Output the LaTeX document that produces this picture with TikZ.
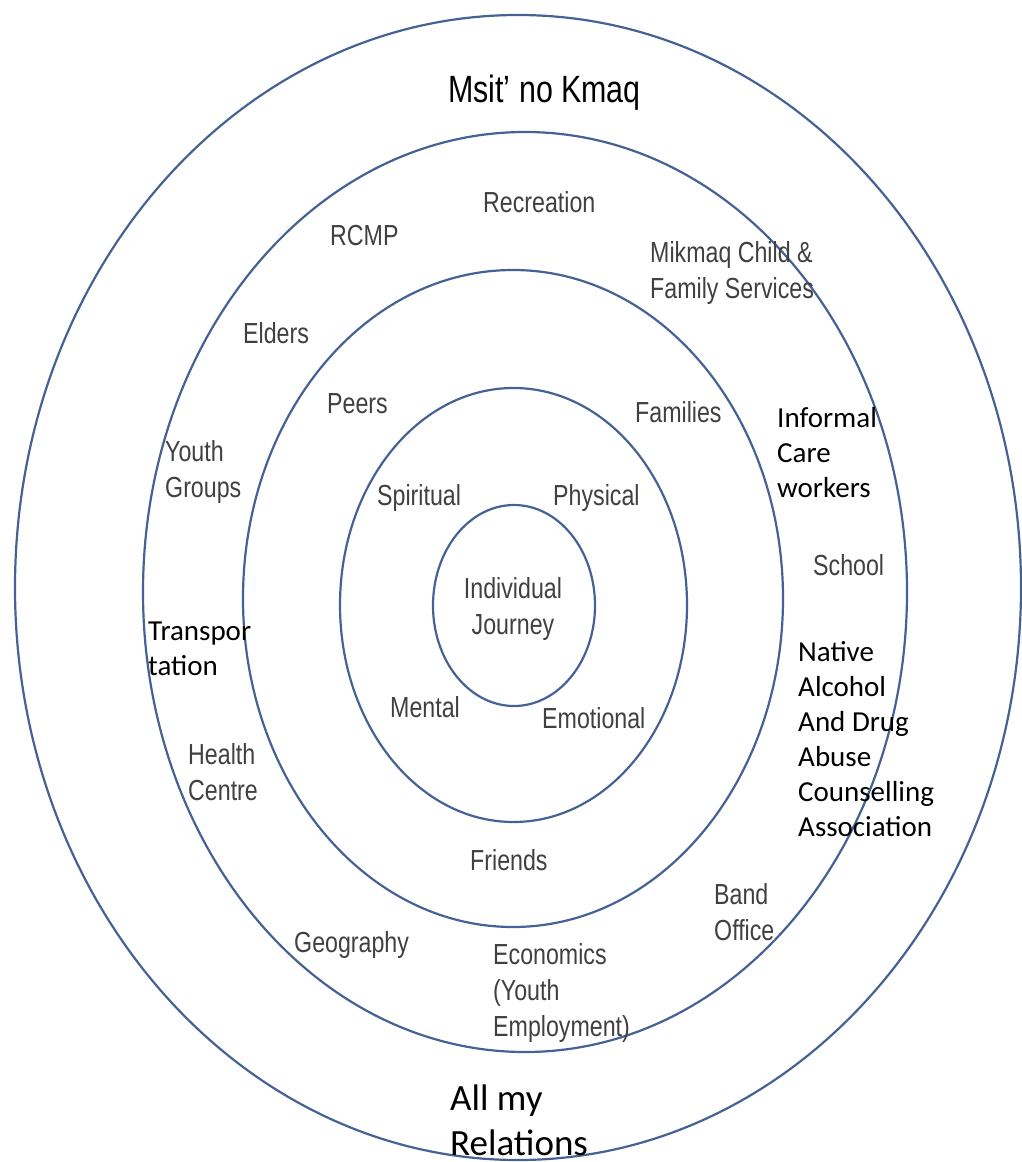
\documentclass[tikz,border=0pt]{standalone}
\usepackage{fontspec}
\usepackage{tikz}
\newfontfamily\arialn{Liberation Sans}[FakeStretch=0.8]
\newfontfamily\calib{Carlito}
\newcommand{\ringtext}{\arialn\fontsize{29}{36}\selectfont}
\newcommand{\bodytext}{\calib\fontsize{29}{35}\selectfont}
\definecolor{ringblue}{RGB}{68,98,148}
\definecolor{labelgrey}{RGB}{64,64,64}
\tikzset{
  ring/.style={draw=ringblue, line width=2.2pt},
  lbl/.style={font=\ringtext, text=labelgrey, align=left, inner sep=0pt, anchor=base west},
  lblc/.style={font=\bodytext, text=black, align=left, inner sep=0pt, anchor=base west},
}

\begin{document}
\begin{tikzpicture}[x=1pt,y=-1pt]
    \useasboundingbox (0,0) rectangle (1021,1162);

    % Rings
    \draw [ring] (518,587.5) ellipse [x radius=503, y radius=572.5];
    \draw [ring] (525,592) ellipse [x radius=382, y radius=460];
    \draw [ring] (513,598.5) ellipse [x radius=270, y radius=328.5];
    \draw [ring] (513.5,605) ellipse [x radius=173.5, y radius=217];
    \draw [ring] (514,605.5) ellipse [x radius=81, y radius=100.5];

    % Outer ring (base = last line)
    \node (msit) [lbl, text=black, font=\arialn\fontsize{38}{44}\selectfont] at (448,102) {Msit’ no Kmaq};
    \node (relations) [lblc, font=\calib\fontsize{37}{45}\selectfont] at (450,1155) {All my\\Relations};

    % Second ring
    \node (recreation) [lbl] at (483,212) {Recreation};
    \node (rcmp) [lbl] at (330,245) {RCMP};
    \node (mikmaq) [lbl] at (650,298) {Mikmaq Child \&\\Family Services};
    \node (elders) [lbl] at (243,343) {Elders};
    \node (informal) [lblc] at (777,497) {Informal\\Care\\workers};
    \node (youth) [lbl] at (165,497) {Youth\\Groups};
    \node (school) [lbl] at (813,575) {School};
    \node (transport) [lblc] at (148,675) {Transpor\\tation};
    \node (native) [lblc] at (798,836) {Native\\Alcohol\\And Drug\\Abuse\\Counselling\\Association};
    \node (health) [lbl] at (188,800) {Health\\Centre};
    \node (band) [lbl] at (714,940) {Band\\Office};
    \node (geography) [lbl] at (294,952) {Geography};
    \node (economics) [lbl] at (493,1036) {Economics\\(Youth\\Employment)};

    % Third ring
    \node (peers) [lbl] at (327,413) {Peers};
    \node (families) [lbl] at (635,422) {Families};
    \node (friends) [lbl] at (470,870) {Friends};

    % Fourth ring
    \node (spiritual) [lbl] at (377,505) {Spiritual};
    \node (physical) [lbl] at (553,505) {Physical};
    \node (mental) [lbl] at (390,717) {Mental};
    \node (emotional) [lbl] at (542,728) {Emotional};

    % Centre
    \node (journey) [lbl, align=center, anchor=base] at (513,634) {Individual\\Journey};

\end{tikzpicture}
\end{document}
